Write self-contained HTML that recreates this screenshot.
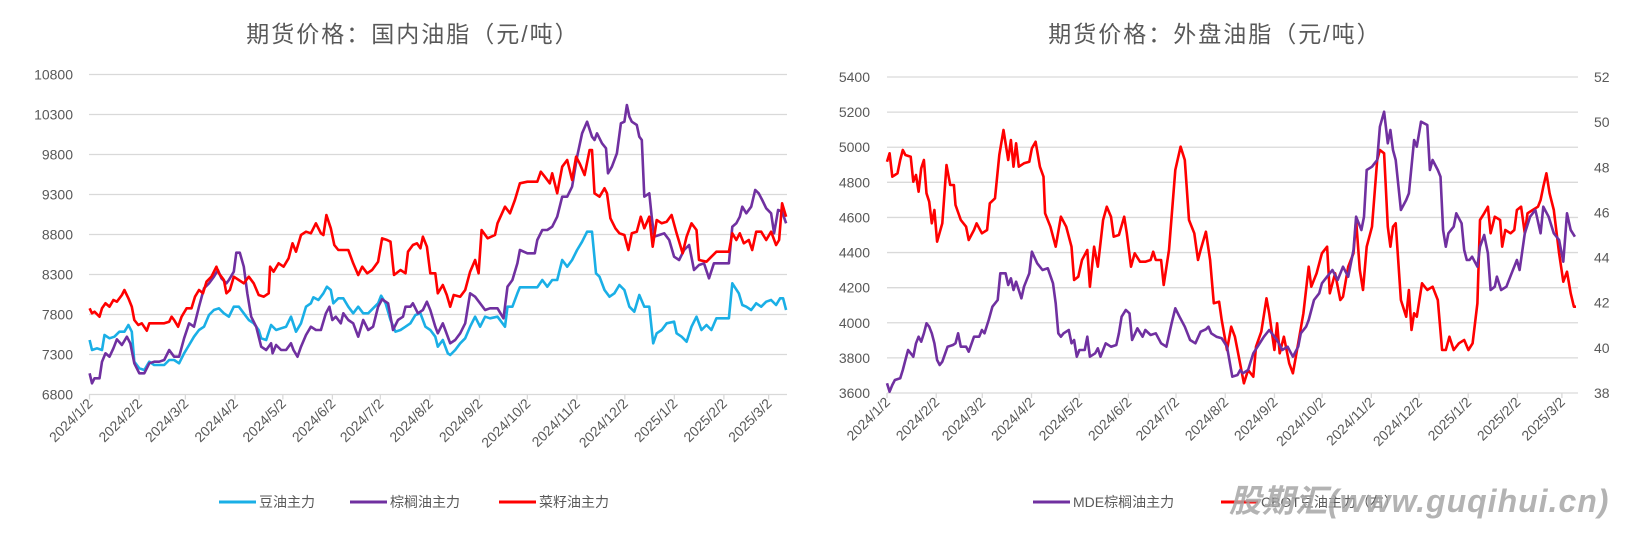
<!DOCTYPE html>
<html><head><meta charset="utf-8"><style>
body{margin:0;background:#fff;}
svg text{font-family:"Liberation Sans","Noto Sans CJK SC",sans-serif;}
</style></head><body>
<svg id="s" width="1629" height="533" xmlns="http://www.w3.org/2000/svg"></svg>
<script>
const S=document.getElementById('s');let h='';
const blue=[[180,840],[185,870],[195,865],[205,870],[210,825],[220,835],[230,830],[240,815],[250,815],[258,795],[265,815],[270,905],[280,925],[290,930],[300,905],[310,915],[320,915],[330,915],[340,900],[350,900],[360,910],[370,880],[380,855],[390,830],[400,810],[410,800],[420,765],[430,750],[440,745],[450,760],[460,770],[470,740],[480,740],[490,760],[500,780],[510,790],[520,810],[525,835],[535,840],[545,795],[555,810],[565,805],[575,800],[585,770],[595,815],[605,790],[615,740],[625,730],[630,712],[640,720],[650,700],[657,680],[665,690],[670,730],[680,715],[690,715],[700,740],[710,760],[720,740],[730,760],[740,760],[750,745],[760,730],[766,707],[775,730],[785,780],[795,815],[805,810],[815,800],[825,790],[835,765],[845,760],[855,800],[865,810],[875,830],[880,860],[890,840],[900,880],[905,885],[915,870],[925,850],[935,835],[945,800],[955,770],[965,800],[975,770],[985,775],[1000,770],[1015,800],[1020,740],[1030,740],[1040,700],[1045,682],[1060,682],[1080,682],[1090,660],[1100,680],[1110,660],[1120,660],[1130,600],[1140,620],[1150,600],[1160,570],[1170,545],[1180,515],[1190,515],[1198,640],[1205,650],[1215,690],[1225,710],[1235,700],[1245,675],[1255,690],[1265,740],[1275,755],[1285,705],[1295,740],[1305,740],[1313,850],[1320,820],[1330,810],[1340,790],[1355,785],[1360,820],[1370,830],[1380,845],[1390,800],[1400,770],[1410,810],[1420,795],[1430,810],[1440,775],[1465,775],[1472,670],[1485,700],[1492,735],[1500,740],[1510,750],[1520,730],[1530,740],[1540,725],[1550,720],[1560,735],[1568,715],[1574,715],[1580,750]];
const palm=[[180,940],[185,970],[190,955],[200,955],[205,905],[212,880],[220,890],[228,865],[235,838],[245,855],[255,830],[262,850],[270,910],[280,940],[290,940],[300,910],[310,905],[320,905],[330,900],[340,870],[350,890],[360,890],[370,835],[380,790],[390,800],[400,740],[410,685],[420,670],[430,650],[438,630],[445,655],[455,670],[460,660],[470,635],[475,578],[482,578],[490,620],[497,700],[505,770],[515,800],[525,860],[535,870],[545,850],[548,880],[555,855],[565,870],[575,870],[585,850],[590,870],[598,890],[605,860],[615,825],[625,800],[635,810],[645,810],[655,760],[662,740],[668,780],[675,770],[685,790],[690,760],[700,780],[710,790],[720,830],[730,780],[740,810],[750,800],[760,740],[768,718],[780,730],[790,810],[800,780],[810,770],[815,740],[825,740],[830,730],[840,760],[850,750],[858,725],[865,750],[875,800],[880,820],[890,790],[895,810],[905,850],[915,840],[925,820],[935,790],[945,700],[955,710],[965,730],[975,750],[985,745],[1000,745],[1012,775],[1020,680],[1030,660],[1040,610],[1045,570],[1060,580],[1075,580],[1080,540],[1090,510],[1100,510],[1110,500],[1120,470],[1130,410],[1140,410],[1150,380],[1160,290],[1170,220],[1180,185],[1190,230],[1195,240],[1200,220],[1210,250],[1218,265],[1222,340],[1230,320],[1240,280],[1248,190],[1255,185],[1260,135],[1265,170],[1270,185],[1280,195],[1285,230],[1290,240],[1295,410],[1305,400],[1310,470],[1315,530],[1325,525],[1335,520],[1345,540],[1355,590],[1365,600],[1375,570],[1385,555],[1395,630],[1405,615],[1415,610],[1425,655],[1435,610],[1465,610],[1472,500],[1480,490],[1487,470],[1492,440],[1500,460],[1510,440],[1518,390],[1525,400],[1532,420],[1540,445],[1550,460],[1556,520],[1564,450],[1572,455],[1580,490]];
const rape=[[180,745],[185,760],[190,755],[200,770],[205,745],[212,730],[220,740],[228,720],[235,725],[245,705],[250,690],[258,715],[265,740],[270,780],[278,795],[285,790],[295,812],[300,790],[310,790],[330,790],[340,785],[345,770],[350,780],[358,800],[365,770],[375,745],[385,745],[392,710],[400,690],[408,700],[415,665],[425,650],[435,620],[440,640],[450,660],[455,700],[462,690],[470,650],[480,660],[490,670],[500,650],[510,670],[520,705],[530,710],[540,700],[543,620],[550,635],[560,610],[570,620],[580,595],[588,550],[595,575],[605,525],[615,515],[625,520],[635,490],[645,520],[650,525],[656,465],[665,505],[672,555],[680,570],[700,570],[710,610],[720,645],[728,620],[738,640],[748,630],[760,605],[768,535],[778,540],[785,545],[792,645],[805,630],[815,640],[820,575],[830,555],[838,550],[845,565],[850,530],[858,560],[865,640],[875,640],[880,700],[890,675],[898,705],[905,740],[912,705],[925,710],[935,690],[945,635],[955,600],[962,640],[968,510],[980,535],[995,525],[1000,490],[1015,440],[1025,460],[1035,420],[1045,370],[1060,365],[1080,365],[1087,335],[1095,350],[1105,370],[1110,340],[1120,400],[1130,320],[1140,300],[1150,360],[1158,290],[1165,310],[1175,345],[1185,270],[1190,270],[1195,400],[1205,410],[1215,385],[1220,400],[1227,475],[1237,505],[1245,520],[1255,525],[1263,570],[1270,520],[1280,515],[1288,470],[1295,505],[1305,470],[1312,560],[1320,480],[1330,490],[1340,485],[1350,465],[1360,520],[1372,580],[1380,530],[1390,490],[1400,510],[1405,600],[1420,605],[1430,590],[1440,575],[1465,575],[1472,520],[1480,540],[1487,520],[1495,550],[1505,540],[1512,570],[1520,515],[1530,515],[1540,540],[1550,515],[1560,555],[1566,540],[1572,430],[1580,470]];
const mde=[[165,970],[170,995],[175,975],[180,960],[190,955],[195,930],[200,900],[205,870],[210,880],[215,890],[220,850],[225,830],[230,845],[235,820],[240,790],[245,800],[250,820],[255,850],[260,900],[265,915],[270,905],[280,860],[290,855],[295,850],[300,820],[305,860],[315,860],[320,875],[330,830],[340,830],[345,810],[350,820],[358,780],[365,740],[375,720],[380,640],[390,640],[395,675],[400,655],[405,690],[410,665],[420,715],[425,680],[435,640],[440,575],[450,610],[460,630],[470,625],[480,670],[485,730],[490,820],[495,830],[500,820],[510,810],[515,850],[520,840],[525,890],[530,870],[540,870],[545,830],[550,890],[560,880],[565,865],[570,890],[580,850],[590,860],[600,855],[605,820],[610,770],[618,750],[625,760],[630,840],[640,805],[650,830],[655,810],[665,825],[675,820],[685,850],[695,860],[705,790],[712,745],[720,770],[730,800],[740,840],[750,850],[760,815],[770,808],[775,800],[780,820],[790,830],[800,835],[810,860],[820,950],[830,945],[835,930],[840,940],[850,930],[860,880],[870,855],[880,830],[890,810],[900,830],[905,840],[915,870],[925,860],[935,890],[945,860],[950,820],[960,800],[965,780],[975,720],[985,700],[990,670],[1000,650],[1010,630],[1020,660],[1030,620],[1040,650],[1050,570],[1055,470],[1065,510],[1070,470],[1075,330],[1085,320],[1090,310],[1095,300],[1100,200],[1108,155],[1115,250],[1120,210],[1125,270],[1130,300],[1140,450],[1150,420],[1155,400],[1165,240],[1170,260],[1178,185],[1190,195],[1195,330],[1200,300],[1210,330],[1215,350],[1220,510],[1225,560],[1230,520],[1240,500],[1245,460],[1255,490],[1260,570],[1265,600],[1270,600],[1275,590],[1285,620],[1290,560],[1298,525],[1305,580],[1310,690],[1318,680],[1322,650],[1330,690],[1340,680],[1350,640],[1360,600],[1365,630],[1375,520],[1385,470],[1395,450],[1405,520],[1410,440],[1420,470],[1430,520],[1440,540],[1448,605],[1455,460],[1462,510],[1470,530]];
const cbot=[[165,305],[170,280],[175,350],[180,345],[185,340],[190,300],[195,270],[200,285],[210,290],[215,365],[220,345],[225,395],[230,325],[235,300],[240,400],[245,425],[250,490],[255,450],[260,545],[270,490],[278,315],[285,375],[292,375],[295,435],[305,480],[315,500],[320,540],[330,510],[335,490],[345,520],[355,510],[360,430],[370,415],[378,285],[386,210],[395,300],[400,240],[405,320],[410,250],[415,320],[425,310],[435,305],[440,265],[447,245],[455,320],[462,350],[465,460],[475,500],[485,560],[495,470],[505,500],[515,560],[520,660],[528,650],[535,600],[545,570],[550,680],[558,560],[565,620],[575,480],[582,440],[590,470],[595,530],[605,525],[615,470],[620,520],[628,620],[635,580],[645,605],[655,605],[665,600],[670,575],[675,600],[685,600],[690,675],[700,570],[712,330],[722,260],[730,300],[738,480],[748,520],[755,600],[760,570],[770,515],[778,600],[785,730],[795,725],[800,780],[810,870],[818,800],[825,830],[830,870],[842,970],[850,930],[860,950],[865,860],[875,815],[885,715],[890,760],[900,870],[905,790],[910,880],[918,830],[928,910],[935,940],[945,850],[955,760],[965,620],[970,680],[980,640],[990,580],[1000,560],[1005,700],[1015,640],[1025,720],[1030,710],[1040,620],[1050,580],[1055,480],[1062,630],[1068,690],[1075,560],[1085,500],[1095,300],[1100,270],[1108,280],[1115,500],[1120,560],[1125,500],[1130,490],[1140,720],[1150,770],[1155,690],[1160,810],[1165,760],[1170,770],[1180,670],[1190,690],[1200,680],[1210,720],[1218,870],[1225,870],[1232,830],[1240,870],[1250,850],[1260,840],[1268,870],[1276,850],[1285,730],[1290,480],[1298,460],[1305,440],[1310,520],[1318,470],[1328,480],[1332,560],[1338,510],[1348,520],[1355,510],[1360,450],[1368,440],[1375,520],[1380,460],[1390,450],[1400,440],[1405,420],[1410,380],[1416,340],[1422,400],[1430,450],[1440,580],[1448,665],[1455,635],[1462,700],[1468,740],[1472,740]];
const months=['2024/1/2','2024/2/2','2024/3/2','2024/4/2','2024/5/2','2024/6/2','2024/7/2','2024/8/2','2024/9/2','2024/10/2','2024/11/2','2024/12/2','2025/1/2','2025/2/2','2025/3/2'];
const days=[0,31,60,91,121,152,182,213,244,274,305,335,366,397,425];
function poly(pts,fx,fy,c){h+=`<polyline fill="none" stroke="${c}" stroke-width="2.6" stroke-linejoin="round" points="${pts.map(p=>fx(p[0]).toFixed(1)+','+fy(p[1]).toFixed(1)).join(' ')}"/>`;}
function xaxis(x0,ppd,y){
 days.forEach((d,i)=>{const x=x0+d*ppd;
  h+=`<line x1="${x}" x2="${x}" y1="${y}" y2="${y+5}" stroke="#d9d9d9" stroke-width="1.3"/>`;
  h+=`<text transform="translate(${x+4},${y+10}) rotate(-45)" font-size="14" fill="#595959" text-anchor="end">${months[i]}</text>`;});
}
// left chart
const LL=['10800','10300','9800','9300','8800','8300','7800','7300','6800'];
for(let i=0;i<9;i++){const y=74.5+320*i/8;h+=`<line x1="89" x2="787" y1="${y}" y2="${y}" stroke="#d9d9d9" stroke-width="1.3"/><text x="73" y="${y+5}" font-size="14" fill="#595959" text-anchor="end">${LL[i]}</text>`;}
xaxis(89.5,1.598,394.5);
const lfx=x=>x/2.01, lfy=y=>60+y/3;
poly(blue,lfx,lfy,'#1aafe6');poly(palm,lfx,lfy,'#7030a0');poly(rape,lfx,lfy,'#ff0000');
h+=`<text x="413" y="42" font-size="23" fill="#595959" text-anchor="middle" letter-spacing="2">期货价格：国内油脂（元/吨）</text>`;
// right chart
const L=['5400','5200','5000','4800','4600','4400','4200','4000','3800','3600'];
for(let i=0;i<10;i++){const y=77+316*i/9;h+=`<line x1="887" x2="1578" y1="${y}" y2="${y}" stroke="#d9d9d9" stroke-width="1.3"/><text x="870" y="${y+5}" font-size="14" fill="#595959" text-anchor="end">${L[i]}</text>`;}
const R=['52','50','48','46','44','42','40','38'];
for(let i=0;i<8;i++){const y=77+316*i/7;h+=`<text x="1594" y="${y+5}" font-size="14" fill="#595959">${R[i]}</text>`;}
xaxis(887,1.588,393);
const rfx=x=>800+x/1.897, rfy=y=>60+y/3;
poly(cbot,rfx,rfy,'#ff0000');poly(mde,rfx,rfy,'#7030a0');
h+=`<text x="1215" y="42" font-size="23" fill="#595959" text-anchor="middle" letter-spacing="2">期货价格：外盘油脂（元/吨）</text>`;
// legends
function leg(x,c,t){h+=`<line x1="${x}" x2="${x+37}" y1="502" y2="502" stroke="${c}" stroke-width="3"/><text x="${x+40}" y="507" font-size="14" fill="#595959">${t}</text>`;}
leg(219,'#1aafe6','豆油主力');leg(350,'#7030a0','棕榈油主力');leg(499,'#ff0000','菜籽油主力');
leg(1033,'#7030a0','MDE棕榈油主力');leg(1221,'#ff0000','CBOT豆油主力（右）');
h+=`<text x="1229" y="512" font-size="32" font-weight="bold" font-style="italic" fill="#a6a6a6" fill-opacity="0.85" letter-spacing="1">股期汇(www.guqihui.cn)</text>`;
S.innerHTML=h;
</script>
</body></html>
